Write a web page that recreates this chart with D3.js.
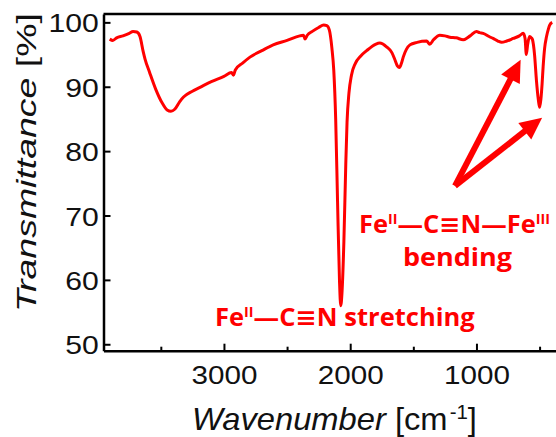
<!DOCTYPE html>
<html>
<head>
<meta charset="utf-8">
<script src="https://cdn.jsdelivr.net/npm/d3@7"></script>
<style>
  html, body { margin: 0; padding: 0; background: #fff; }
  svg { display: block; }
</style>
</head>
<body>
<svg id="chart" width="556" height="437"></svg>
<script>
// ---- data ----
const wavenumber = [3905,3880,3850,3800,3750,3720,3690,3665,3640,3625,3590,3540,3490,3450,3420,3390,3350,3320,3250,3190,3100,3000,2940,2925,2910,2850,2794,2700,2610,2500,2400,2370,2358,2340,2300,2250,2210,2185,2165,2145,2130,2115,2100,2085,2075,2065,2050,2035,2025,2010,1990,1960,1920,1870,1800,1765,1712,1670,1646,1625,1610,1595,1580,1555,1527,1470,1395,1370,1340,1290,1250,1211,1160,1105,1050,1000,975,947,900,868,830,801,760,709,660,630,615,605,595,580,565,556,540,525,510,500,490,480,472,460,445,430,419,400];
const transmittance = [97.4,97.2,97.6,97.9,98.3,98.6,98.5,97.8,95.5,94.3,92.3,89.6,87.5,86.4,86.2,86.5,87.7,88.4,89.3,89.9,90.8,91.6,92.2,91.8,92.6,93.7,94.6,95.6,96.5,97.2,97.9,98.0,97.4,98.0,98.6,99.2,99.6,99.5,98.8,96.0,92.5,85.0,72.0,60.0,56.0,58.0,66.0,78.0,84.5,89.0,91.8,93.6,94.7,95.6,96.6,96.8,96.2,95.3,94.2,93.2,93.0,93.6,94.6,95.8,96.5,96.9,97.1,96.6,97.3,98.0,97.9,97.7,97.6,97.3,97.9,98.6,98.4,98.3,97.8,97.5,97.1,96.9,97.1,97.5,97.9,98.3,97.5,95.0,96.5,97.8,97.6,97.3,95.0,91.0,88.0,86.8,88.0,90.5,93.1,96.0,97.8,99.0,99.6,100.0];
const xMajorTicks = [3000, 2000, 1000];
const xMinorTicks = [3500, 2500, 1500, 500];
const yTicks = [50, 60, 70, 80, 90, 100];
const xLabelItalic = "Wavenumber";
const yLabelItalic = "Transmittance";
const annotStretch = ["Fe", "II", "—C≡N stretching"];
const annotBend = ["Fe", "II", "—C≡N—Fe", "III"];
const annotBend2 = "bending";
// annotation arrow targets (wavenumber, transmittance) and common tail
const arrowTail = [1170, 74.6];
const arrowTips = [[650, 94.2], [480, 85.2]];

const RED = "#ff0000";
const svg = d3.select("#chart");

const x = d3.scaleLinear().domain([3954, 370]).range([103.5, 556]);
const y = d3.scaleLinear().domain([49, 101.3]).range([350.7, 14]);

const data = wavenumber.map((w, i) => ({w, t: transmittance[i]}));

// fit helper: scale a text horizontally to fill [x0,x1]
function fitH(sel, x0, x1, yb) {
  const bb = sel.node().getBBox();
  const s = (x1 - x0) / bb.width;
  sel.attr("transform", `translate(${x0 - bb.x * s},${yb}) scale(${s},1)`);
}

// top frame line
svg.append("line").attr("x1", x.range()[0]).attr("x2", 556).attr("y1", 14).attr("y2", 14)
  .attr("stroke", "#000").attr("stroke-width", 2.5);

// x axis
const xAxis = svg.append("g").attr("transform", `translate(0,${y.range()[0]})`)
  .call(d3.axisBottom(x).tickValues(xMajorTicks).tickSize(-7).tickSizeOuter(0).tickPadding(0).tickFormat(d3.format("d")));
xAxis.select(".domain").attr("stroke-width", 2.5);
xAxis.selectAll(".tick line").attr("stroke-width", 2);
xAxis.selectAll(".tick text")
  .attr("font-family", "Arial, 'Liberation Sans', sans-serif").attr("font-size", 26)
  .attr("fill", "#111").attr("dy", null).attr("y", 33.5)
  .attr("transform", "scale(1.14,1)");
const xMinor = svg.append("g").attr("transform", `translate(0,${y.range()[0]})`)
  .call(d3.axisBottom(x).tickValues(xMinorTicks).tickSize(-4).tickSizeOuter(0).tickFormat(""));
xMinor.select(".domain").remove();
xMinor.selectAll(".tick line").attr("stroke-width", 2);

// y axis
const yAxis = svg.append("g").attr("transform", `translate(${x.range()[0]},0)`)
  .call(d3.axisLeft(y).tickValues(yTicks).tickSize(-7).tickSizeOuter(0).tickPadding(4).tickFormat(d3.format("d")));
yAxis.select(".domain").attr("stroke-width", 2.5);
yAxis.selectAll(".tick line").attr("stroke-width", 2);
yAxis.selectAll(".tick text")
  .attr("font-family", "Arial, 'Liberation Sans', sans-serif").attr("font-size", 26)
  .attr("fill", "#111").attr("dy", null).attr("y", 9.5)
  .attr("transform", "scale(1.16,1)");

// spectrum
const line = d3.line().x(d => x(d.w)).y(d => y(d.t)).curve(d3.curveMonotoneX);
svg.append("path").datum(data).attr("d", line)
  .attr("fill", "none").attr("stroke", RED).attr("stroke-width", 3).attr("stroke-linejoin", "round");

// axis titles
const xt = svg.append("text").attr("font-family", "Arial, 'Liberation Sans', sans-serif")
  .attr("font-size", 32).attr("fill", "#111");
xt.append("tspan").attr("font-style", "italic").text(xLabelItalic);
xt.append("tspan").text(" [cm");
xt.append("tspan").attr("font-size", 20).attr("dy", -11).attr("dx", 2).text("-1");
xt.append("tspan").attr("dy", 11).text("]");
fitH(xt, 192, 477, 430);

const yg = svg.append("g").attr("transform", "translate(35.5,312) rotate(-90)");
const yt = yg.append("text").attr("font-family", "Arial, 'Liberation Sans', sans-serif")
  .attr("font-size", 28).attr("fill", "#111");
yt.append("tspan").attr("font-style", "italic").text(yLabelItalic);
yt.append("tspan").text(" [%]");
fitH(yt, 0, 299, 0);

// annotations
function annot(parts, x0, x1, yb) {
  const t = svg.append("text").attr("font-family", "'Open Sans', 'DejaVu Sans', sans-serif")
    .attr("font-weight", 700).attr("font-size", 25).attr("fill", RED);
  parts.forEach((p, i) => {
    const sup = i % 2 === 1;
    const ts = t.append("tspan").text(p);
    if (sup) ts.attr("font-size", 14).attr("dy", -9);
    else if (i > 0) ts.attr("dy", 9);
  });
  fitH(t, x0, x1, yb);
  return t;
}
annot(annotStretch, 215, 475, 326);
annot(annotBend, 359, 550, 233);
const bt = svg.append("text").attr("font-family", "'Open Sans', 'DejaVu Sans', sans-serif")
  .attr("font-weight", 700).attr("font-size", 25).attr("fill", RED).text(annotBend2);
fitH(bt, 403, 512, 266);

// arrows
const tail = [x(arrowTail[0]), y(arrowTail[1])];
arrowTips.forEach(tp => {
  const tip = [x(tp[0]), y(tp[1])];
  const dx = tip[0] - tail[0], dy = tip[1] - tail[1];
  const L = Math.hypot(dx, dy), ux = dx / L, uy = dy / L;
  const hl = 22, hw = 10.5;
  const base = [tip[0] - ux * hl, tip[1] - uy * hl];
  svg.append("line").attr("x1", tail[0]).attr("y1", tail[1])
    .attr("x2", base[0] + ux * 2).attr("y2", base[1] + uy * 2)
    .attr("stroke", RED).attr("stroke-width", 6);
  svg.append("path").attr("fill", RED).attr("d",
    `M${tip[0]},${tip[1]}L${base[0] - uy * hw},${base[1] + ux * hw}L${base[0] + uy * hw},${base[1] - ux * hw}Z`);
});
</script>
</body>
</html>
